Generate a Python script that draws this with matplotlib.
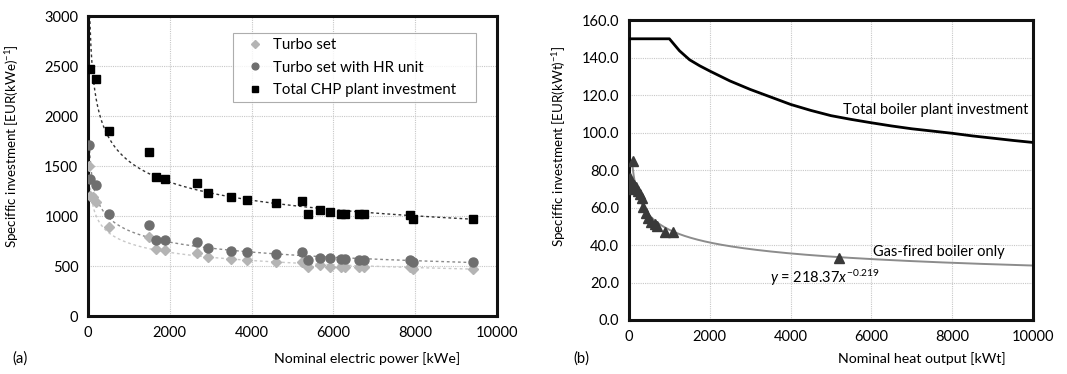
import numpy as np
import matplotlib
matplotlib.use("Agg")
from matplotlib import pyplot as plt

plt.rcParams['font.family'] = ['Lato', 'DejaVu Sans']
plt.rcParams['mathtext.fontset'] = 'custom'
plt.rcParams['mathtext.rm'] = 'Lato'
plt.rcParams['mathtext.it'] = 'Lato:italic'

# ---- panel (a) data ----
p_chp = [57, 195, 505, 1489, 1668, 1888, 2669, 2929, 3499, 3889, 4589, 5232,
         5387, 5671, 5907, 6176, 6290, 6615, 6737, 7884, 7949, 9422]
chp_total = [2470, 2367, 1847, 1643, 1387, 1370, 1330, 1230, 1190, 1157, 1133, 1150,
             1017, 1063, 1040, 1023, 1023, 1020, 1020, 1007, 975, 975]

p_hr = [33, 57, 195, 513, 1497, 1668, 1888, 2669, 2929, 3499, 3889, 4589, 5232,
        5387, 5671, 5907, 6176, 6290, 6615, 6737, 7884, 7949, 9422]
turbo_hr = [1713, 1367, 1313, 1023, 907, 763, 757, 737, 677, 653, 640, 620, 640,
            563, 583, 577, 567, 567, 560, 560, 560, 537, 537]

p_turbo = [16, 41, 115, 195, 505, 1497, 1668, 1888, 2669, 2929, 3499, 3889, 4589, 5232,
           5387, 5671, 5907, 6176, 6290, 6615, 6737, 7884, 7949, 9422]
turbo = [1497, 1200, 1193, 1143, 887, 793, 667, 660, 633, 587, 573, 557, 537, 540,
         490, 510, 493, 487, 487, 487, 487, 493, 467, 467]

# ---- panel (b) data ----
q_gas = [20, 40, 60, 100, 130, 170, 220, 270, 310, 350, 410, 470, 540, 650, 700, 900, 1100, 5200]
gas = [75.5, 70, 73, 85, 72, 71, 69, 67, 65, 60.5, 57, 54.5, 52.5, 51, 50, 47, 46.8, 33.2]

q_boiler = [0, 1000, 1250, 1500, 1750, 2000, 2500, 3000, 3500, 4000, 4500, 5000, 5500, 6000,
            6500, 7000, 7500, 8000, 8500, 9000, 9500, 10000]
boiler_total = [150, 150, 143.6, 138.8, 135.6, 132.8, 127.5, 123.0, 119.0, 115.0, 111.8, 109.0,
                107.0, 105.2, 103.5, 102.0, 100.8, 99.6, 98.2, 97.0, 95.8, 94.7]

gas_a, gas_b = 218.37, -0.219

FS = 10.2


def power_fit(x, y):
    b, lna = np.polyfit(np.log(x), np.log(y), 1)
    return np.exp(lna), b


def style_axes(ax):
    for s in ax.spines.values():
        s.set_linewidth(2.2)
        s.set_color('#111111')
    ax.grid(True, color='#c8c8c8', linestyle=(0, (1, 1)), linewidth=0.8)
    ax.set_axisbelow(True)
    ax.tick_params(length=0, pad=7, labelsize=10.5)


fig = plt.figure(figsize=(10.67, 3.74), dpi=100)

# ---------------- (a) ----------------
ax1 = fig.add_axes([0.0825, 0.155, 0.3833, 0.802])
style_axes(ax1)
for x, y, c, x0 in [(p_turbo, turbo, '#c8c8c8', 30), (p_hr, turbo_hr, '#8a8a8a', 30),
                    (p_chp, chp_total, '#333333', 12)]:
    a, b = power_fit(x, y)
    xx = np.linspace(x0, 9422, 800)
    ax1.plot(xx, a * xx ** b, color=c, linestyle=(0, (2, 2)), linewidth=1.0, zorder=2)

ax1.plot(p_turbo, turbo, 'D', color='#b4b4b4', markersize=5.5, linestyle='none',
         label='Turbo set', zorder=3)
ax1.plot(p_hr, turbo_hr, 'o', color='#6e6e6e', markersize=6.5, linestyle='none',
         label='Turbo set with HR unit', zorder=4)
ax1.plot(p_chp, chp_total, 's', color='black', markersize=6, linestyle='none',
         label='Total CHP plant investment', zorder=5)

ax1.set_xlim(0, 10000)
ax1.set_ylim(0, 3000)
ax1.set_xticks(range(0, 10001, 2000))
ax1.set_yticks(range(0, 3001, 500))
ax1.set_ylabel('Speciffic investment [EUR(kWe)$^{-1}$]', fontsize=9.6)
ax1.yaxis.set_label_coords(-0.165, 0.567)
leg = ax1.legend(loc='upper left', bbox_to_anchor=(0.355, 0.717, 0.594, 0.226),
                 mode='expand', fontsize=FS + 0.6, frameon=True, fancybox=False,
                 borderpad=0.35, handletextpad=0.1, labelspacing=0.55,
                 handlelength=2.2, markerscale=0.75, borderaxespad=0)
leg.get_frame().set_edgecolor('#999999')
leg.get_frame().set_linewidth(0.8)

fig.text(0.344, 0.03, 'Nominal electric power [kWe]', fontsize=FS, ha='center')
fig.text(0.012, 0.03, '(a)', fontsize=FS + 0.5)

# ---------------- (b) ----------------
ax2 = fig.add_axes([0.5895, 0.1444, 0.3786, 0.802])
style_axes(ax2)
ax2.plot(q_boiler, boiler_total, color='black', linewidth=2, zorder=3)
qq = np.linspace(90, 10000, 800)
ax2.plot(qq, gas_a * qq ** gas_b, color='#8c8c8c', linewidth=1.4, zorder=2)
ax2.plot(q_gas, gas, '^', color='#3a3a3a', markersize=7, linestyle='none', zorder=4)

ax2.set_xlim(0, 10000)
ax2.set_ylim(0, 160)
ax2.set_xticks(range(0, 10001, 2000))
ax2.set_yticks(range(0, 161, 20))
ax2.set_yticklabels([f'{v:.1f}' for v in range(0, 161, 20)])
ax2.set_ylabel('Speciffic investment [EUR(kWt)$^{-1}$]', fontsize=9.6)
ax2.yaxis.set_label_coords(-0.151, 0.58)

ax2.text(9880, 112, 'Total boiler plant investment', fontsize=FS + 0.3, ha='right', va='center')
ax2.text(6040, 36.3, 'Gas-fired boiler only', fontsize=FS + 0.3, ha='left', va='center')
ax2.text(3490, 22.4, r'$y$ = 218.37$x^{-0.219}$', fontsize=FS + 0.3, ha='left', va='center')

fig.text(0.864, 0.03, 'Nominal heat output [kWt]', fontsize=FS, ha='center')
fig.text(0.537, 0.03, '(b)', fontsize=FS + 0.5)

fig.savefig('out.png', dpi=100)
